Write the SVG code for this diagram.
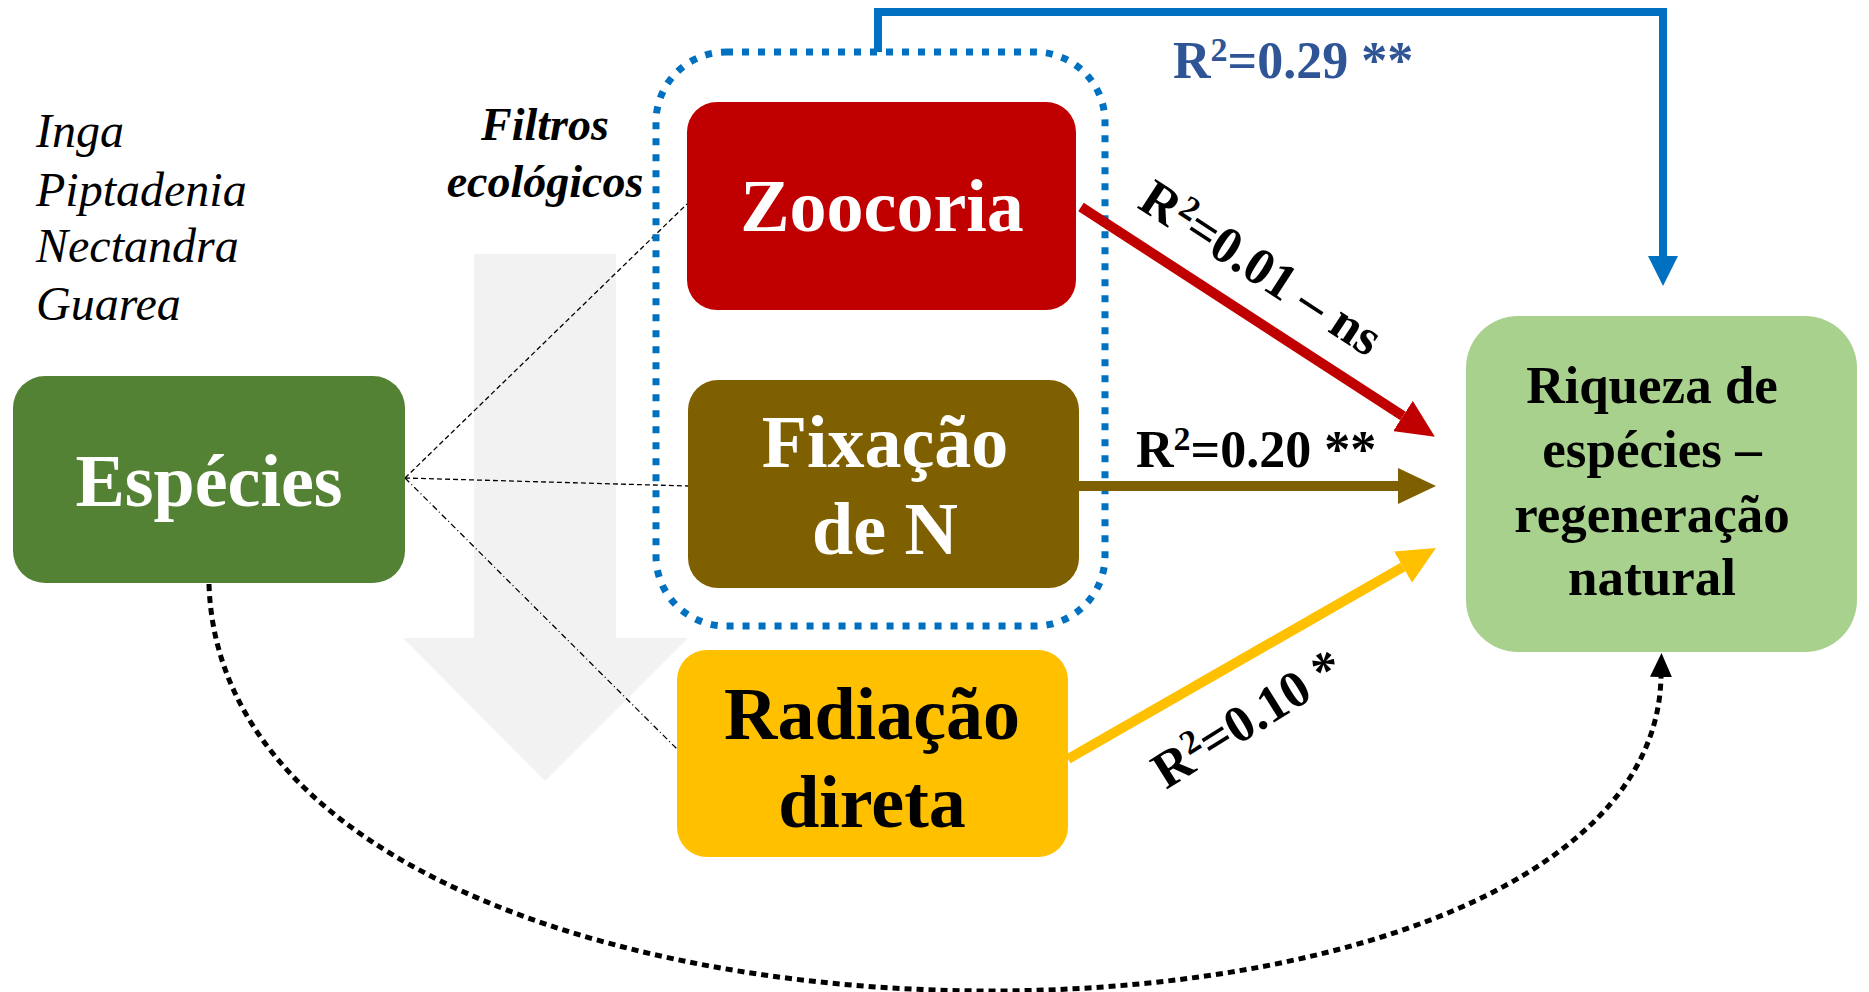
<svg xmlns="http://www.w3.org/2000/svg" width="1869" height="992" viewBox="0 0 1869 992">
<style>
text{font-family:"Liberation Serif","Times New Roman",serif;}
.b{font-weight:bold;}
.w{fill:#fff;}
.k{fill:#000;}
.big{font-size:74px;}
.lab{font-size:52px;font-weight:bold;}
.sp{font-size:34px;}
.it{font-style:italic;font-size:48px;}
.thin{fill:none;stroke:#000;stroke-width:1.3;}
</style>
<defs>
<marker id="hRed" markerUnits="userSpaceOnUse" markerWidth="38" markerHeight="36" viewBox="0 0 38 36" refX="0" refY="18" orient="auto"><path d="M0,0 L38,18 L0,36 Z" fill="#C00000"/></marker>
<marker id="hBrown" markerUnits="userSpaceOnUse" markerWidth="38" markerHeight="36" viewBox="0 0 38 36" refX="0" refY="18" orient="auto"><path d="M0,0 L38,18 L0,36 Z" fill="#7F6000"/></marker>
<marker id="hYellow" markerUnits="userSpaceOnUse" markerWidth="38" markerHeight="36" viewBox="0 0 38 36" refX="0" refY="18" orient="auto"><path d="M0,0 L38,18 L0,36 Z" fill="#FFC000"/></marker>
<marker id="hBlue" markerUnits="userSpaceOnUse" markerWidth="30" markerHeight="30" viewBox="0 0 30 30" refX="0" refY="15" orient="auto"><path d="M0,0 L30,15 L0,30 Z" fill="#0070C0"/></marker>
<marker id="hBlack" markerUnits="userSpaceOnUse" markerWidth="24" markerHeight="22" viewBox="0 0 24 22" refX="0" refY="11" orient="auto"><path d="M0,0 L24,11 L0,22 Z" fill="#000"/></marker>
</defs>
<rect width="1869" height="992" fill="#fff"/>

<g id="filter-arrow">
<polygon points="474,254 616,254 616,638 688,638 545,781 403,638 474,638" fill="#F2F2F2"/>
</g>

<g id="genera">
<text class="it" x="36" y="147">Inga</text>
<text class="it" x="36" y="206">Piptadenia</text>
<text class="it" x="36" y="262">Nectandra</text>
<text class="it" x="36" y="320">Guarea</text>
</g>

<g id="filtros">
<text class="b" font-style="italic" font-size="46" text-anchor="middle" x="545" y="140">Filtros</text>
<text class="b" font-style="italic" font-size="46" text-anchor="middle" x="545" y="197">ecológicos</text>
</g>

<g id="thin-links">
<line class="thin" x1="405" y1="478" x2="687" y2="204" stroke-dasharray="5 3"/>
<line class="thin" x1="405" y1="478" x2="688" y2="486" stroke-dasharray="5 3"/>
<line class="thin" x1="405" y1="478" x2="677" y2="749" stroke-dasharray="6 3 1 3"/>
</g>

<g id="especies">
<rect x="13" y="376" width="392" height="207" rx="32" fill="#548235"/>
<text class="b w big" text-anchor="middle" x="209" y="506">Espécies</text>
</g>

<g id="zoocoria">
<rect x="687" y="102" width="389" height="208" rx="30" fill="#C00000"/>
<text class="b w big" text-anchor="middle" x="882" y="231">Zoocoria</text>
</g>

<g id="fixacao">
<rect x="688" y="380" width="391" height="208" rx="30" fill="#7F6000"/>
<text class="b w big" text-anchor="middle" x="885" y="467">Fixação</text>
<text class="b w big" text-anchor="middle" x="885" y="554">de N</text>
</g>

<g id="radiacao">
<rect x="677" y="650" width="391" height="207" rx="30" fill="#FFC000"/>
<text class="b k big" text-anchor="middle" x="872" y="739">Radiação</text>
<text class="b k big" text-anchor="middle" x="872" y="827">direta</text>
</g>

<g id="filtros-box">
<rect x="656" y="52" width="449" height="574" rx="70" fill="none" stroke="#0070C0" stroke-width="7" stroke-dasharray="7 9"/>
</g>

<g id="riqueza">
<rect x="1466" y="316" width="391" height="336" rx="52" fill="#A9D18E"/>
<text class="b k" font-size="53" text-anchor="middle" x="1652" y="403">Riqueza de</text>
<text class="b k" font-size="53" text-anchor="middle" x="1652" y="467">espécies –</text>
<text class="b k" font-size="53" text-anchor="middle" x="1652" y="532">regeneração</text>
<text class="b k" font-size="53" text-anchor="middle" x="1652" y="595">natural</text>
</g>

<g id="connectors">
<path d="M878,52 V12 H1663 V256" fill="none" stroke="#0070C0" stroke-width="8" stroke-linejoin="miter" marker-end="url(#hBlue)"/>
<line x1="1081" y1="207" x2="1403" y2="416" stroke="#C00000" stroke-width="10" marker-end="url(#hRed)"/>
<line x1="1079" y1="486" x2="1398" y2="486" stroke="#7F6000" stroke-width="10" marker-end="url(#hBrown)"/>
<line x1="1068" y1="759" x2="1403" y2="567" stroke="#FFC000" stroke-width="10" marker-end="url(#hYellow)"/>
<path d="M209,584 C225,1110 1652,1110 1661,677" fill="none" stroke="#000" stroke-width="5" stroke-dasharray="7 5" marker-end="url(#hBlack)"/>
</g>

<g id="labels">
<text class="lab" fill="#2F5597" x="1173" y="78">R<tspan class="sp" dy="-17">2</tspan><tspan dy="17">=0.29 **</tspan></text>
<text class="lab" fill="#000" x="1136" y="467">R<tspan class="sp" dy="-17">2</tspan><tspan dy="17">=0.20 **</tspan></text>
<text class="lab" fill="#000" transform="translate(1136,207) rotate(33)">R<tspan class="sp" dy="-17">2</tspan><tspan dy="17">=0.01 – ns</tspan></text>
<text class="lab" fill="#000" transform="translate(1166,790) rotate(-32)">R<tspan class="sp" dy="-17">2</tspan><tspan dy="17">=0.10 *</tspan></text>
</g>
</svg>
